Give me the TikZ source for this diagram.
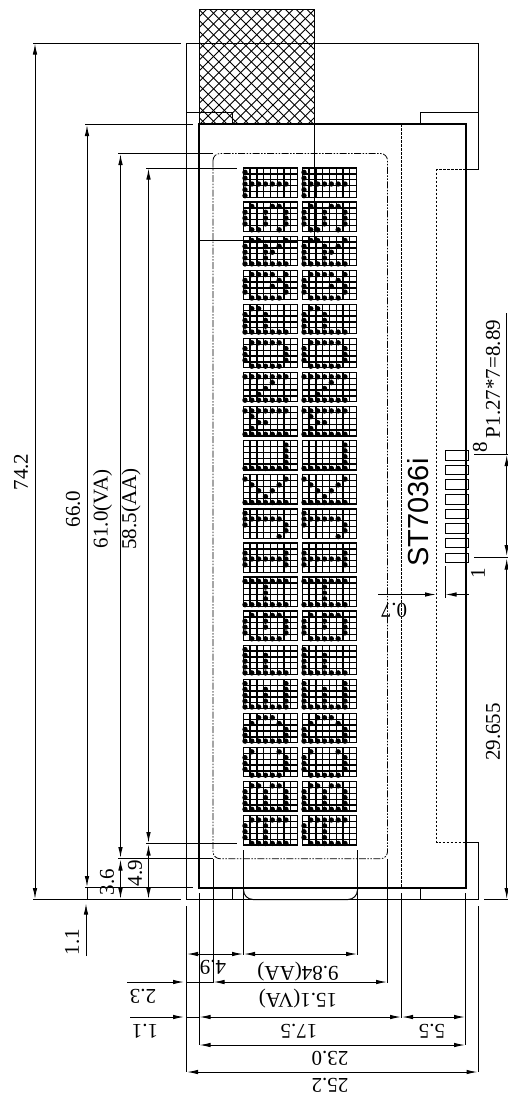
\documentclass[tikz,border=0pt]{standalone}
\usepackage{fontspec}
\setmainfont{Liberation Serif}
\newfontfamily\chipfont{Liberation Sans}
\usetikzlibrary{arrows.meta}

% one character cell: left edge, top edge, then the dots of rows 0 to 4
\newcommand{\lcdglyph}[7]{
  \foreach \gx in {0,...,8} {\draw[cellgrid] (#1+6.79*\gx,#2) -- +(0,29.3);}
  \foreach \gy in {0,...,5} {\draw[cellgrid] (#1,#2+5.86*\gy) -- +(54.3,0);}
  \foreach \col in {#3} {\fill (#1+1.7+6.83*\col,#2+4.3) circle (2.7);}
  \foreach \col in {#4} {\fill (#1+1.7+6.83*\col,#2+10.1) circle (2.7);}
  \foreach \col in {#5} {\fill (#1+1.7+6.83*\col,#2+16) circle (2.7);}
  \foreach \col in {#6} {\fill (#1+1.7+6.83*\col,#2+21.8) circle (2.7);}
  \foreach \col in {#7} {\fill (#1+1.7+6.83*\col,#2+27.7) circle (2.7);}
}

\begin{document}
\begin{tikzpicture}[x=1pt,y=-1pt,
>={Latex[length=11pt,width=4.5pt]},
thin/.style={line width=1pt},
outline/.style={line width=2pt},
cellgrid/.style={line width=1.3pt},
dimline/.style={line width=1pt},
extline/.style={line width=1pt},
dashline/.style={line width=0.9pt,dash pattern=on 2.5pt off 1.5pt},
viewline/.style={line width=0.8pt,dash pattern=on 7pt off 1.5pt on 1.5pt off 1.5pt on 1.5pt off 1.5pt},
dimlabel/.style={font=\fontsize{21}{21}\selectfont,inner sep=0pt},
]
  \useasboundingbox (0,0) rectangle (508,1101);

  % hatched flat cable
  \begin{scope}
    \clip (199,9.5) rectangle (314.5,124);
    \foreach \i in {-11,...,11} {
      \draw[line width=0.9pt] (199+10.8*\i,9.5) -- +(115,115);
      \draw[line width=0.9pt] (314.5+10.8*\i,9.5) -- +(-115,115);
    }
  \end{scope}
  \draw[thin] (199,9.5) rectangle (314.5,124);
  \draw[thin] (314.5,124) -- (314.5,240) -- (199,240);

  % module outline
  \draw[thin] (186.5,899.5) -- (186.5,43) -- (478,43) -- (478,169.5) -- (465.5,169.5);
  \draw[thin] (465.5,842.5) -- (478,842.5) -- (478,899.5) -- (186.5,899.5);
  \draw[thin] (186.5,112) -- (232.5,112) -- (232.5,124);
  \draw[thin] (420,124) -- (420,112) -- (478,112);
  \draw[thin] (232.5,888) -- (232.5,899.5);
  \draw[thin] (420,888) -- (420,899.5);
  \draw[thin] (243.5,888) -- (243.5,890) arc[start angle=180,end angle=90,radius=9.5] -- (348,899.5) arc[start angle=90,end angle=0,radius=9.5] -- (357.5,888);

  % glass
  \draw[outline] (199,124) rectangle (465.5,888);
  \draw[dashline] (401.5,124) -- (401.5,888);
  \draw[dashline] (465.5,169.5) -- (436.5,169.5) -- (436.5,842.5) -- (465.5,842.5);
  \draw[viewline,rounded corners=7pt] (213,153.5) rectangle (387.5,858.7);

  % pads
  \foreach \i in {0,...,7} {
    \draw[thin] (445,450.7+14.63*\i) rectangle +(23.5,9.5);
  }

  % display, characters T up to A from the top
  \foreach \xs in {243.3,302.3} {
    \lcdglyph{\xs}{168}{0}{0}{0,...,6}{0}{0}
    \lcdglyph{\xs}{202.1}{1,4,5}{0,3,6}{0,3,6}{0,3,6}{1,2,5}
    \lcdglyph{\xs}{236.2}{1,2,6}{0,3,5}{0,3,4}{0,3}{0,...,6}
    \lcdglyph{\xs}{270.3}{1,2,3,4,6}{0,5}{0,4,6}{0,6}{1,...,5}
    \lcdglyph{\xs}{304.4}{1,2}{0,3}{0,3}{0,3}{0,...,6}
    \lcdglyph{\xs}{338.5}{1,...,5}{0,6}{0,6}{0,6}{1,...,5}
    \lcdglyph{\xs}{372.5}{0,...,6}{4}{3}{2}{0,...,6}
    \lcdglyph{\xs}{406.6}{0,...,6}{1}{2,3}{1}{0,...,6}
    \lcdglyph{\xs}{440.7}{6}{6}{6}{6}{0,...,6}
    \lcdglyph{\xs}{474.8}{0,6}{1,5}{2,4}{3}{0,...,6}
    \lcdglyph{\xs}{508.9}{0}{0,...,5}{0,6}{6}{5}
    \lcdglyph{\xs}{543}{}{0,6}{0,...,6}{0,6}{}
    \lcdglyph{\xs}{577}{0,...,6}{3}{3}{3}{0,...,6}
    \lcdglyph{\xs}{611.1}{1,3,4,5}{0,3,6}{0,3,6}{0,6}{1,...,5}
    \lcdglyph{\xs}{645.2}{0}{0,3}{0,3}{0,3}{0,...,6}
    \lcdglyph{\xs}{679.3}{0,6}{0,3,6}{0,3,6}{0,3,6}{0,...,6}
    \lcdglyph{\xs}{713.4}{2,3,4}{1,5}{0,6}{0,6}{0,...,6}
    \lcdglyph{\xs}{747.5}{1,5}{0,6}{0,6}{0,6}{1,...,5}
    \lcdglyph{\xs}{781.6}{1,2,4,5}{0,3,6}{0,3,6}{0,3,6}{0,...,6}
    \lcdglyph{\xs}{815.7}{1,...,6}{0,3}{0,3}{0,3}{1,...,6}
  }

  % extension lines, left
  \draw[extline] (33,43) -- (181,43);
  \draw[extline] (33,899.5) -- (181,899.5);
  \draw[extline] (85,124.5) -- (193,124.5);
  \draw[extline] (85,887.5) -- (193,887.5);
  \draw[extline] (118,153.5) -- (213,153.5);
  \draw[extline] (118,858.7) -- (213,858.7);
  \draw[extline] (146,168) -- (237,168);
  \draw[extline] (146,843.5) -- (237,843.5);

  % extension lines, bottom
  \draw[extline] (186.5,906) -- (186.5,1072);
  \draw[extline] (199,893) -- (199,1045);
  \draw[extline] (213,858.7) -- (213,983);
  \draw[extline] (243.5,850) -- (243.5,955);
  \draw[extline] (357.5,850) -- (357.5,955);
  \draw[extline] (387.5,858.7) -- (387.5,983);
  \draw[extline] (401.5,893) -- (401.5,1018);
  \draw[extline] (465.5,893) -- (465.5,1045);
  \draw[extline] (478,906) -- (478,1072);

  % vertical dimensions
  \draw[dimline,<->] (35,43.5) -- (35,899);
  \draw[dimline,<->] (87,125) -- (87,887);
  \draw[dimline,<->] (120.5,154) -- (120.5,858);
  \draw[dimline,<->] (148.5,168.5) -- (148.5,843);
  \draw[dimline] (87,888) -- (87,899.5);
  \draw[dimline,->] (86,956) -- (86,903.5);
  \draw[dimline,<->] (120.5,859.5) -- (120.5,899);
  \draw[dimline,<->] (148.5,844.5) -- (148.5,899);

  % horizontal dimensions
  \draw[dimline,<->] (187,954) -- (243,954);
  \draw[dimline,<->] (244,954) -- (357,954);
  \draw[dimline] (186.5,982) -- (213,982);
  \draw[dimline,<->] (213.5,982) -- (387,982);
  \draw[dimline,->] (127,982) -- (184,982);
  \draw[dimline] (186.5,1017) -- (199,1017);
  \draw[dimline,<->] (199.5,1017) -- (401,1017);
  \draw[dimline,<->] (402,1017) -- (465,1017);
  \draw[dimline,->] (130,1017) -- (184,1017);
  \draw[dimline,<->] (199.5,1045) -- (465,1045);
  \draw[dimline,<->] (187,1072) -- (477.5,1072);

  % pitch of the pads
  \draw[extline] (474,454) -- (508,454);
  \draw[extline] (474,557) -- (508,557);
  \draw[extline] (484,899.5) -- (508,899.5);
  \draw[dimline] (506.7,313) -- (506.7,454);
  \draw[dimline,<->] (506.7,455) -- (506.7,556);
  \draw[dimline,<->] (506.7,558.5) -- (506.7,899);
  \draw[dimline,->] (378,594.5) -- (436,594.5);
  \draw[dimline,->] (468.5,594.5) -- (445.5,594.5);
  \draw[extline] (445,566) -- (445,598);

  % labels
  \node (dimHeight) [dimlabel,rotate=90] at (21,472) {74.2};
  \node (dimGlass) [dimlabel,rotate=90] at (73,509) {66.0};
  \node (dimView) [dimlabel,rotate=90] at (102.5,509) {61.0(VA)};
  \node (dimActive) [dimlabel,rotate=90] at (131,509) {58.5(AA)};
  \node (dimTopA) [dimlabel,rotate=90] at (72,942) {1.1};
  \node (dimTopB) [dimlabel,rotate=90] at (107,882) {3.6};
  \node (dimTopC) [dimlabel,rotate=90] at (135,873) {4.9};
  \node (dimPitch) [dimlabel,rotate=90] at (493,379) {P1.27*7=8.89};
  \node (dimOffset) [dimlabel,rotate=90] at (493,732) {29.655};
  \node (pinLast) [dimlabel,rotate=90] at (480,447) {8};
  \node (pinFirst) [dimlabel,rotate=90] at (478,573) {1};
  \node (chip) [inner sep=0pt,rotate=90,font=\chipfont\fontsize{29}{29}\selectfont] at (418,512.5) {ST7036i};
  \node (dimPad) [dimlabel,rotate=180] at (394,610) {0.7};
  \node (dimLeftAA) [dimlabel,rotate=180] at (213,967) {4.9};
  \node (dimActiveW) [dimlabel,rotate=180] at (298,971.5) {9.84(AA)};
  \node (dimViewW) [dimlabel,rotate=180] at (298,999) {15.1(VA)};
  \node (dimLeftVA) [dimlabel,rotate=180] at (143,996) {2.3};
  \node (dimLeftG) [dimlabel,rotate=180] at (145,1031) {1.1};
  \node (dimGlassA) [dimlabel,rotate=180] at (299,1031) {17.5};
  \node (dimGlassB) [dimlabel,rotate=180] at (432,1031) {5.5};
  \node (dimGlassW) [dimlabel,rotate=180] at (330,1058) {23.0};
  \node (dimWidth) [dimlabel,rotate=180] at (330,1085) {25.2};
\end{tikzpicture}
\end{document}
